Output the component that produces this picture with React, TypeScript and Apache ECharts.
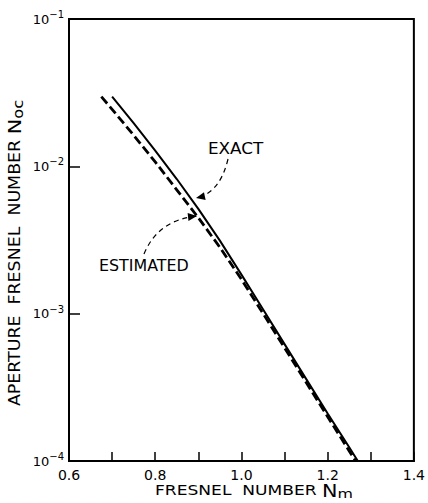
import React, { useEffect, useRef } from "react";
import * as echarts from "echarts";

// Fresnel number N_m (x) and aperture Fresnel number N_oc (y)
const exactX = [0.70, 0.75, 0.80, 0.85, 0.90, 0.95, 1.00, 1.05, 1.10, 1.15, 1.20, 1.25, 1.270];
const exactY = [0.0297, 0.01963, 0.01279, 0.0082, 0.00514, 0.00313, 0.00184, 0.00107, 0.000621, 0.000361, 0.00021, 0.000124, 0.0001];
const estX = [0.675, 0.70, 0.75, 0.80, 0.85, 0.90, 0.95, 1.00, 1.05, 1.10, 1.15, 1.20, 1.25, 1.265];
const estY = [0.0297, 0.02438, 0.01626, 0.01072, 0.00693, 0.00448, 0.00282, 0.00171, 0.001005, 0.000587, 0.000342, 0.0002, 0.000117, 0.0001];

const xMin = 0.6;
const xMax = 1.4;
const xStep = 0.1;
const yMin = 0.0001;
const yMax = 0.1;

const FONT = "DejaVu Sans";

function arrowHead(tipX: number, tipY: number, fromX: number, fromY: number, len = 9, half = 4) {
  const dx = tipX - fromX;
  const dy = tipY - fromY;
  const d = Math.hypot(dx, dy) || 1;
  const ux = dx / d;
  const uy = dy / d;
  const bx = tipX - ux * len;
  const by = tipY - uy * len;
  return [
    [tipX, tipY],
    [bx - uy * half, by + ux * half],
    [bx + uy * half, by - ux * half],
  ];
}

export default function App() {
  const ref = useRef<HTMLDivElement>(null);
  useEffect(() => {
    if (!ref.current) return;
    const chart = echarts.init(ref.current, null, { renderer: "svg" });
    const exactArrow = { x1: 228, y1: 159, cpx1: 220, cpy1: 193, x2: 196, y2: 198 };
    const estArrow = { x1: 144, y1: 254, cpx1: 158, cpy1: 220, x2: 197, y2: 216 };
    const nameRich = (base: number) => ({
      a: { fontFamily: FONT, fontSize: base, fill: "#000", color: "#000" },
      n: { fontFamily: FONT, fontSize: base + 3, fill: "#000", color: "#000" },
      s: { fontFamily: FONT, fontSize: base - 1, fill: "#000", color: "#000", padding: [6, 0, 0, 0] },
    });
    chart.setOption({
      animation: false,
      backgroundColor: "#fff",
      grid: {
        left: 69,
        right: 10,
        top: 19,
        bottom: 42,
        show: true,
        borderColor: "#000",
        borderWidth: 2,
        backgroundColor: "transparent",
      },
      xAxis: {
        type: "value",
        min: xMin,
        max: xMax,
        interval: xStep,
        axisLine: { lineStyle: { color: "#000", width: 2 } },
        axisTick: { inside: true, length: 9, lineStyle: { color: "#000", width: 1.5 } },
        splitLine: { show: false },
        axisLabel: {
          margin: 7,
          color: "#000",
          fontFamily: FONT,
          fontSize: 14,
          formatter: (v: number) => (Math.round(v * 10) % 2 === 0 ? v.toFixed(1) : ""),
        },
      },
      yAxis: {
        type: "log",
        logBase: 10,
        min: yMin,
        max: yMax,
        splitNumber: 3,
        axisLine: { lineStyle: { color: "#000", width: 2 } },
        axisTick: { inside: true, length: 11, lineStyle: { color: "#000", width: 1.5 } },
        minorTick: { show: false },
        splitLine: { show: false },
        axisLabel: {
          margin: 5,
          color: "#000",
          formatter: (v: number) => {
            const e = Math.round(Math.log10(v));
            return `{b|10}{e|\u2212${-e}}`;
          },
          rich: {
            b: { fontFamily: FONT, fontSize: 13, color: "#000" },
            e: { fontFamily: FONT, fontSize: 10, color: "#000", padding: [0, 0, 9, 0] },
          },
        },
      },
      series: [
        {
          name: "EXACT",
          type: "line",
          data: exactX.map((x, i) => [x, exactY[i]]),
          showSymbol: false,
          symbol: "none",
          lineStyle: { color: "#000", width: 2 },
        },
        {
          name: "ESTIMATED",
          type: "line",
          data: estX.map((x, i) => [x, estY[i]]),
          showSymbol: false,
          symbol: "none",
          lineStyle: { color: "#000", width: 2.8, type: [9, 4] },
        },
      ],
      graphic: [
        {
          type: "text",
          x: 208,
          y: 149,
          scaleX: 1.12,
          style: { text: "EXACT", fontFamily: FONT, fontSize: 15, fill: "#000", verticalAlign: "middle" },
        },
        {
          type: "text",
          x: 99,
          y: 266,
          scaleX: 1.06,
          style: { text: "ESTIMATED", fontFamily: FONT, fontSize: 15, fill: "#000", verticalAlign: "middle" },
        },
        {
          type: "bezierCurve",
          shape: exactArrow,
          style: { stroke: "#000", lineWidth: 1.2, lineDash: [5, 4], fill: "none" },
        },
        {
          type: "polygon",
          shape: { points: arrowHead(exactArrow.x2, exactArrow.y2, exactArrow.cpx1, exactArrow.cpy1) },
          style: { fill: "#000" },
        },
        {
          type: "bezierCurve",
          shape: estArrow,
          style: { stroke: "#000", lineWidth: 1.2, lineDash: [5, 4], fill: "none" },
        },
        {
          type: "polygon",
          shape: { points: arrowHead(estArrow.x2, estArrow.y2, estArrow.cpx1, estArrow.cpy1) },
          style: { fill: "#000" },
        },
        {
          type: "text",
          x: 254,
          y: 491,
          scaleX: 1.22,
          style: {
            text: "{a|FRESNEL  NUMBER }{n|N}{s|m}",
            align: "center",
            verticalAlign: "middle",
            rich: nameRich(14),
          },
        },
        {
          type: "text",
          x: 15,
          y: 253,
          rotation: Math.PI / 2,
          scaleX: 1.16,
          style: {
            text: "{a|APERTURE  FRESNEL  NUMBER }{n|N}{s|oc}",
            align: "center",
            verticalAlign: "middle",
            rich: nameRich(15),
          },
        },
      ],
    });
    return () => chart.dispose();
  }, []);
  return (
    <div
      ref={ref}
      style={{ position: "fixed", left: 0, top: 0, width: 428, height: 503, background: "#fff" }}
    />
  );
}
